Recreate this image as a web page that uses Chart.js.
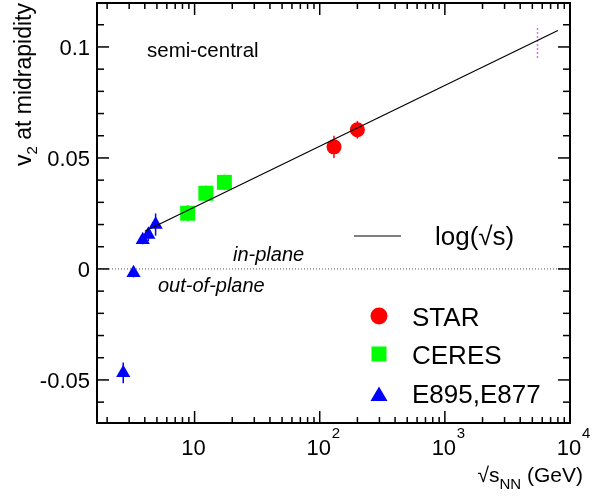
<!DOCTYPE html>
<html>
<head>
<meta charset="utf-8">
<script src="https://cdn.jsdelivr.net/npm/chart.js@4.4.1/dist/chart.umd.min.js"></script>
<style>
body { margin: 0; background: #fff; }
</style>
</head>
<body>
<canvas id="v2Chart" width="596" height="501"></canvas>
<script>
// sqrt(s_NN) in GeV, v2 at midrapidity, stat error
const starX = [130, 200];
const starV2 = [0.055, 0.0627];
const starErr = [0.005, 0.004];

const ceresX = [8.8, 12.3, 17.3];
const ceresV2 = [0.0251, 0.0341, 0.039];
const ceresErr = [0.0037, 0.0035, 0.0035];

const e895X = [2.69, 3.25, 3.85, 4.27, 4.88];
const e895V2 = [-0.0468, -0.0018, 0.0131, 0.0155, 0.020];
const e895Err = [0.0047, 0.002, 0.002, 0.003, 0.005];

// log(sqrt s) trend line and the LHC band
const fitX = [4, 8000];
const fitV2 = [0.017, 0.1074];
const lhcX = [5500, 5500];
const lhcV2 = [0.095, 0.1095];

const xTicks = [10, 100, 1000, 10000];
const xTickPowers = ['', '2', '3', '4'];
const yTicks = [-0.05, 0, 0.05, 0.1];
const yTickLabels = ['-0.05', '0', '0.05', '0.1'];

const FONT = '"Liberation Sans", Arial, sans-serif';

function pts(xs, ys) {
    return xs.map((v, i) => ({ x: v, y: ys[i] }));
}

function line(ctx, x1, y1, x2, y2) {
    ctx.beginPath();
    ctx.moveTo(x1, y1);
    ctx.lineTo(x2, y2);
    ctx.stroke();
}

// draws text pieces one after another: [text, size, dy, italic]
function rich(ctx, parts, x, y, align) {
    let total = 0;
    parts.forEach(p => {
        ctx.font = (p[3] ? 'italic ' : '') + p[1] + 'px ' + FONT;
        total += ctx.measureText(p[0]).width;
    });
    let cx = align === 'right' ? x - total : align === 'center' ? x - total / 2 : x;
    ctx.textAlign = 'left';
    ctx.textBaseline = 'alphabetic';
    parts.forEach(p => {
        ctx.font = (p[3] ? 'italic ' : '') + p[1] + 'px ' + FONT;
        ctx.fillText(p[0], cx, y + (p[2] || 0));
        cx += ctx.measureText(p[0]).width;
    });
}

const errSets = [
    { xs: starX, ys: starV2, err: starErr, color: '#ff0000' },
    { xs: ceresX, ys: ceresV2, err: ceresErr, color: '#00ff00' },
    { xs: e895X, ys: e895V2, err: e895Err, color: '#0000ff' }
];

const framePlugin = {
    id: 'framePlugin',
    beforeDatasetsDraw(chart) {
        const { ctx, scales: { x, y } } = chart;
        ctx.save();
        ctx.lineWidth = 1.5;
        errSets.forEach(s => {
            ctx.strokeStyle = s.color;
            s.xs.forEach((v, i) => {
                const px = x.getPixelForValue(v);
                line(ctx, px, y.getPixelForValue(s.ys[i] - s.err[i]), px, y.getPixelForValue(s.ys[i] + s.err[i]));
            });
        });
        ctx.restore();
    },
    afterDraw(chart) {
        const { ctx, chartArea: a, scales: { x, y } } = chart;
        ctx.save();
        ctx.strokeStyle = '#000';
        ctx.fillStyle = '#000';
        ctx.lineWidth = 1.5;

        // y ticks, every 0.01
        for (let i = -6; i <= 11; i++) {
            const py = y.getPixelForValue(i / 100);
            const len = i % 5 === 0 ? 12 : 7;
            line(ctx, a.left, py, a.left + len, py);
            line(ctx, a.right, py, a.right - len, py);
        }
        // x ticks, log decades
        for (let d = 0; d < 4; d++) {
            for (let k = 1; k <= 9; k++) {
                const v = k * Math.pow(10, d);
                if (v < x.min) continue;
                const px = x.getPixelForValue(v);
                const len = k === 1 ? 12 : 6;
                line(ctx, px, a.bottom, px, a.bottom - len);
                line(ctx, px, a.top, px, a.top + len);
            }
        }
        ctx.lineWidth = 2;
        ctx.strokeRect(a.left, a.top, a.right - a.left, a.bottom - a.top);

        // tick labels
        ctx.font = '22px ' + FONT;
        ctx.textAlign = 'right';
        ctx.textBaseline = 'alphabetic';
        yTicks.forEach((v, i) => {
            ctx.fillText(yTickLabels[i], a.left - 7, y.getPixelForValue(v) + 8);
        });
        xTicks.forEach((v, i) => {
            const px = x.getPixelForValue(v);
            ctx.font = '22px ' + FONT;
            ctx.textAlign = 'center';
            ctx.fillText('10', px - 1, 455);
            if (xTickPowers[i]) {
                ctx.font = '15px ' + FONT;
                ctx.textAlign = 'left';
                ctx.fillText(xTickPowers[i], px + 12, 438);
            }
        });

        // axis titles
        rich(ctx, [['\u221As', 21], ['NN', 15, 7], [' (GeV)', 21]], 583, 482, 'right');
        ctx.translate(31, 3);
        ctx.rotate(-Math.PI / 2);
        rich(ctx, [['v', 23], ['2', 15, 6], [' at midrapidity', 23]], 0, 0, 'right');
        ctx.restore();

        // annotations
        ctx.save();
        ctx.fillStyle = '#000';
        rich(ctx, [['semi-central', 20.5]], 147, 57, 'left');
        rich(ctx, [['in-plane', 20, 0, true]], 233, 261, 'left');
        rich(ctx, [['out-of-plane', 20, 0, true]], 158, 292, 'left');

        // legend
        ctx.strokeStyle = '#000';
        ctx.lineWidth = 1;
        line(ctx, 354, 236, 401, 236);
        rich(ctx, [['log(\u221As)', 26]], 435, 245, 'left');

        ctx.fillStyle = '#ff0000';
        ctx.beginPath();
        ctx.arc(379, 316, 8.5, 0, Math.PI * 2);
        ctx.fill();
        ctx.fillStyle = '#00ff00';
        ctx.fillRect(371.5, 346.5, 15, 15);
        ctx.fillStyle = '#0000ff';
        ctx.beginPath();
        ctx.moveTo(379, 386.5);
        ctx.lineTo(387.5, 401);
        ctx.lineTo(370.5, 401);
        ctx.closePath();
        ctx.fill();

        ctx.fillStyle = '#000';
        rich(ctx, [['STAR', 26]], 412, 326, 'left');
        rich(ctx, [['CERES', 26]], 412, 364, 'left');
        rich(ctx, [['E895,E877', 26]], 412, 403, 'left');
        ctx.restore();
    }
};

const ctx = document.getElementById('v2Chart').getContext('2d');
const v2Chart = new Chart(ctx, {
    type: 'scatter',
    data: {
        datasets: [
            {
                label: 'zero',
                data: pts([1.66, 10000], [0, 0]),
                showLine: true,
                borderColor: '#555',
                borderWidth: 1,
                borderDash: [1, 2],
                pointRadius: 0
            },
            {
                label: 'log(sqrt s)',
                data: pts(fitX, fitV2),
                showLine: true,
                borderColor: '#000',
                borderWidth: 1.2,
                pointRadius: 0
            },
            {
                label: 'LHC',
                data: pts(lhcX, lhcV2),
                showLine: true,
                borderColor: '#ee66ee',
                borderWidth: 1.5,
                borderDash: [2, 2],
                pointRadius: 0
            },
            {
                label: 'STAR',
                data: pts(starX, starV2),
                pointStyle: 'circle',
                pointRadius: 7.5,
                pointBorderWidth: 0,
                backgroundColor: '#ff0000',
                borderColor: '#ff0000'
            },
            {
                label: 'CERES',
                data: pts(ceresX, ceresV2),
                pointStyle: 'rect',
                pointRadius: 10.6,
                pointBorderWidth: 0,
                backgroundColor: '#00ff00',
                borderColor: '#00ff00'
            },
            {
                label: 'E895,E877',
                data: pts(e895X, e895V2),
                pointStyle: 'triangle',
                pointRadius: 8.2,
                pointBorderWidth: 0,
                backgroundColor: '#0000ff',
                borderColor: '#0000ff'
            }
        ]
    },
    options: {
        responsive: false,
        animation: false,
        devicePixelRatio: 1,
        layout: { autoPadding: false, padding: { left: 97, right: 26, top: 3, bottom: 78 } },
        plugins: {
            legend: { display: false },
            tooltip: { enabled: false }
        },
        scales: {
            x: { type: 'logarithmic', min: 1.66, max: 10000, display: false },
            y: { type: 'linear', min: -0.0694, max: 0.1198, display: false }
        }
    },
    plugins: [framePlugin]
});
</script>
</body>
</html>
